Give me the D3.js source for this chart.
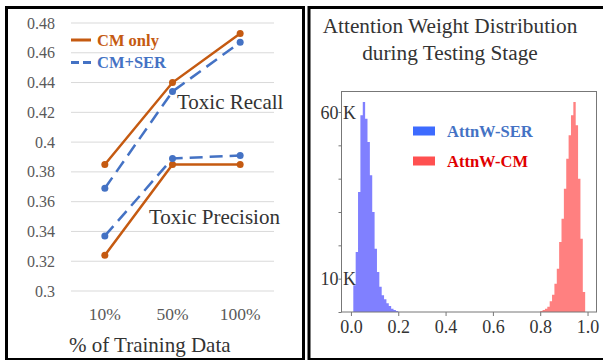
<!DOCTYPE html>
<html>
<head>
<meta charset="utf-8">
<script src="https://cdn.jsdelivr.net/npm/d3@7"></script>
<style>
  body { margin: 0; background: #fff; }
  svg, svg text { font-family: "Liberation Serif", "Times New Roman", serif; }
  svg { display: block; }
</style>
</head>
<body>
<svg id="chart" width="603" height="360"></svg>
<script>
// left panel: recall / precision vs. training data
const trainingPct = ["10%", "50%", "100%"];
const recallCM = [0.385, 0.440, 0.473];
const recallSER = [0.369, 0.434, 0.467];
const precisionCM = [0.324, 0.385, 0.385];
const precisionSER = [0.337, 0.389, 0.391];
const scoreTicks = [0.3, 0.32, 0.34, 0.36, 0.38, 0.4, 0.42, 0.44, 0.46, 0.48];

// right panel: attention weight histograms (bin start, count)
const serBinStart = [0.01, 0.02, 0.03, 0.04, 0.05, 0.06, 0.07, 0.08, 0.09, 0.10,
  0.11, 0.12, 0.13, 0.14, 0.15, 0.16, 0.17, 0.18, 0.19];
const serCounts = [8000, 18000, 36000, 59000, 63000, 58000, 51000, 41000, 30000, 19000,
  12000, 7600, 5000, 3800, 2600, 1800, 1000, 600, 300];
const cmBinStart = [0.80, 0.81, 0.82, 0.83, 0.84, 0.85, 0.86, 0.87, 0.88, 0.89,
  0.90, 0.91, 0.92, 0.93, 0.94, 0.95, 0.96, 0.97, 0.98];
const cmCounts = [300, 600, 1000, 1600, 3200, 5200, 8500, 13000, 21000, 28000,
  37000, 46000, 53000, 59000, 63000, 56000, 40000, 22000, 6000];
const binWidth = 0.01;
const weightTicks = [0, 0.2, 0.4, 0.6, 0.8, 1.0];
const countTicks = [0, 10000, 20000, 30000, 40000, 50000, 60000];
const countLabels = [10000, 60000];

const orange = "#c55a11", blue = "#4472c4";
const serif = "'Liberation Serif', 'Times New Roman', serif";
const svg = d3.select("#chart");

// ---------- left panel ----------
const x = d3.scalePoint().domain(trainingPct).range([71, 274]).padding(0.5);
const y = d3.scaleLinear().domain([0.3, 0.48]).range([291, 23]);

const left = svg.append("g");
left.selectAll("line.grid")
  .data(scoreTicks)
  .enter().append("line")
  .attr("class", "grid")
  .attr("x1", 71).attr("x2", 274)
  .attr("y1", d => y(d)).attr("y2", d => y(d))
  .attr("stroke", "#d9d9d9").attr("stroke-width", 1);

left.selectAll("text.ytick")
  .data(scoreTicks)
  .enter().append("text")
  .attr("class", "ytick")
  .attr("x", 55).attr("y", d => y(d)).attr("dy", "0.35em")
  .attr("text-anchor", "end")
  .attr("font-size", 16).attr("fill", "#595959")
  .text(d => String(+d.toFixed(2)));

left.selectAll("text.xtick")
  .data(trainingPct)
  .enter().append("text")
  .attr("class", "xtick")
  .attr("x", d => x(d)).attr("y", 320)
  .attr("text-anchor", "middle")
  .attr("font-size", 17.5).attr("fill", "#595959")
  .text(d => d);

const line = d3.line().x((d, i) => x(trainingPct[i])).y(d => y(d));
const series = [
  { values: recallCM, color: orange, dash: null },
  { values: precisionCM, color: orange, dash: null },
  { values: recallSER, color: blue, dash: "13,7" },
  { values: precisionSER, color: blue, dash: "13,7" }
];
series.forEach(s => {
  left.append("path")
    .attr("d", line(s.values))
    .attr("fill", "none")
    .attr("stroke", s.color)
    .attr("stroke-width", 2.5)
    .attr("stroke-dasharray", s.dash);
  left.selectAll(null)
    .data(s.values)
    .enter().append("circle")
    .attr("cx", (d, i) => x(trainingPct[i]))
    .attr("cy", d => y(d))
    .attr("r", 3.5)
    .attr("fill", s.color);
});

// legend
left.append("line").attr("x1", 71).attr("x2", 91).attr("y1", 40).attr("y2", 40)
  .attr("stroke", orange).attr("stroke-width", 3);
left.append("text").attr("x", 97).attr("y", 45.5)
  .attr("font-size", 16.5).attr("font-weight", "bold").attr("fill", orange).text("CM only");
left.append("line").attr("x1", 71).attr("x2", 91).attr("y1", 62.5).attr("y2", 62.5)
  .attr("stroke", blue).attr("stroke-width", 3).attr("stroke-dasharray", "8,4");
left.append("text").attr("x", 97).attr("y", 68)
  .attr("font-size", 16.5).attr("font-weight", "bold").attr("fill", blue).text("CM+SER");

left.append("text").attr("x", 177).attr("y", 109)
  .attr("font-size", 21).attr("fill", "#333").text("Toxic Recall");
left.append("text").attr("x", 149).attr("y", 224)
  .attr("font-size", 21).attr("fill", "#333").text("Toxic Precision");
left.append("text").attr("x", 69).attr("y", 352)
  .attr("font-size", 21).attr("fill", "#333").text("% of Training Data");

// panel border
svg.append("rect").attr("x", 6.5).attr("y", 7.5).attr("width", 297).attr("height", 352)
  .attr("fill", "none").attr("stroke", "#000").attr("stroke-width", 3);

// ---------- right panel ----------
const hx = d3.scaleLinear().domain([-0.042, 1.04]).range([341, 597]);
const hy = d3.scaleLinear().domain([0, 66300]).range([312, 91]);
const right = svg.append("g");

right.append("text").attr("x", 450).attr("y", 33).attr("text-anchor", "middle")
  .attr("font-size", 21.3).attr("fill", "#333").text("Attention Weight Distribution");
right.append("text").attr("x", 450).attr("y", 60).attr("text-anchor", "middle")
  .attr("font-size", 21.3).attr("fill", "#333").text("during Testing Stage");

// histogram outlines as step areas
const stepArea = d3.area()
  .curve(d3.curveStepAfter)
  .x(d => hx(d[0]))
  .y0(hy(0))
  .y1(d => hy(d[1]));
function histPoints(starts, counts) {
  const pts = starts.map((s, i) => [s, counts[i]]);
  pts.push([starts[starts.length - 1] + binWidth, 0]);
  return pts;
}
right.append("path").attr("d", stepArea(histPoints(serBinStart, serCounts)))
  .attr("fill", "#8080ff");
right.append("path").attr("d", stepArea(histPoints(cmBinStart, cmCounts)))
  .attr("fill", "#ff8080");

// frame
right.append("rect").attr("x", 341.5).attr("y", 91.5).attr("width", 255).attr("height", 220.5)
  .attr("fill", "none").attr("stroke", "#777").attr("stroke-width", 1);

const xAxis = right.append("g").attr("transform", "translate(0,312)")
  .call(d3.axisBottom(hx).tickValues(weightTicks).tickSize(4).tickFormat(d3.format(".1f")));
xAxis.attr("font-family", null);
xAxis.select(".domain").remove();
xAxis.selectAll(".tick line").attr("stroke", "#777");
xAxis.selectAll(".tick text").style("font-family", serif)
  .attr("font-size", 18).attr("fill", "#333").attr("y", 8).attr("dy", "0.71em");

const yAxis = right.append("g").attr("transform", "translate(341.5,0)")
  .call(d3.axisLeft(hy).tickValues(countTicks).tickSize(3)
    .tickFormat(d => countLabels.includes(d) ? (d / 1000) + " K" : ""));
yAxis.attr("font-family", null);
yAxis.select(".domain").remove();
yAxis.selectAll(".tick line").attr("stroke", "#777");
yAxis.selectAll(".tick text").style("font-family", serif)
  .attr("font-size", 18).attr("fill", "#333")
  .attr("text-anchor", "start").attr("x", -21).attr("dy", "0.35em");

// legend
const legend = [
  { label: "AttnW-SER", swatch: "#3d6bff", text: "#4472c4", y: 131 },
  { label: "AttnW-CM", swatch: "#ff5050", text: "#e00000", y: 161 }
];
legend.forEach(l => {
  right.append("rect").attr("x", 413).attr("y", l.y - 4.5).attr("width", 22).attr("height", 9)
    .attr("fill", l.swatch);
  right.append("text").attr("x", 447).attr("y", l.y + 5.5)
    .attr("font-size", 16.5).attr("font-weight", "bold").attr("fill", l.text).text(l.label);
});

svg.append("rect").attr("x", 309).attr("y", 7.5).attr("width", 310).attr("height", 352)
  .attr("fill", "none").attr("stroke", "#000").attr("stroke-width", 3);
</script>
</body>
</html>
